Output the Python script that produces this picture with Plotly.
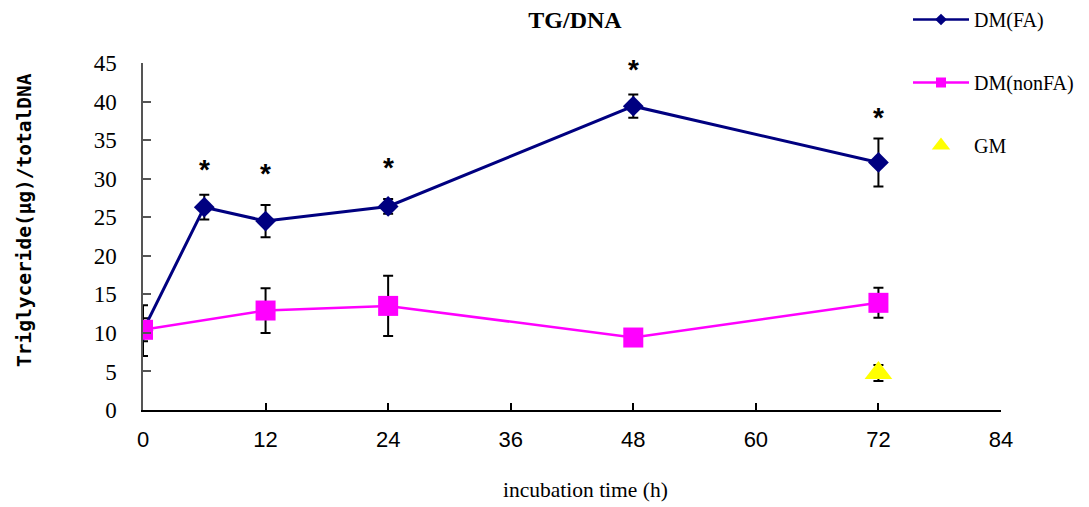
import plotly.graph_objects as go

# incubation time (h)
time_fa = [0, 6, 12, 24, 48, 72]
time_nonfa = [0, 12, 24, 48, 72]
time_gm = [72]

# triglyceride (ug) / total DNA, mean and error
tg_fa = [10.3, 26.3, 24.5, 26.4, 39.4, 32.1]
err_fa = [3.3, 1.6, 2.1, 0.95, 1.5, 3.1]
tg_nonfa = [10.4, 12.9, 13.5, 9.4, 13.9]
err_nonfa = [1.5, 2.9, 3.9, 0.6, 1.95]
tg_gm = [4.8]
err_gm = [1.05]

# significance marks above DM(FA)
sig_time = [6, 12, 24, 48, 72]
sig_y = [31.6, 31.1, 31.9, 44.6, 38.3]

x_ticks = [0, 12, 24, 36, 48, 60, 72, 84]
y_ticks = [0, 5, 10, 15, 20, 25, 30, 35, 40, 45]

NAVY = "#000080"
MAGENTA = "#FF00FF"
YELLOW = "#FFFF00"
SERIF = "Liberation Serif"
SANS = "Liberation Sans"
MONO = "DejaVu Sans Mono"

err_style = dict(type="data", visible=True, color="black", thickness=2, width=5)
hidden_marker = dict(size=1, color="rgba(0,0,0,0)")

fig = go.Figure()

# error bars first so that lines and markers sit on top of them
for xs, ys, es in [(time_fa, tg_fa, err_fa),
                   (time_nonfa, tg_nonfa, err_nonfa),
                   (time_gm, tg_gm, err_gm)]:
    fig.add_trace(go.Scatter(
        x=xs, y=ys, mode="markers", marker=hidden_marker,
        error_y=dict(array=es, **err_style),
        showlegend=False, hoverinfo="skip",
    ))

fig.add_trace(go.Scatter(
    x=time_fa, y=tg_fa, mode="lines+markers", name="DM(FA)",
    line=dict(color=NAVY, width=3),
    marker=dict(symbol="diamond", size=16, color=NAVY),
    showlegend=False,
))
fig.add_trace(go.Scatter(
    x=time_nonfa, y=tg_nonfa, mode="lines+markers", name="DM(nonFA)",
    line=dict(color=MAGENTA, width=2.5),
    marker=dict(symbol="square", size=20, color=MAGENTA),
    showlegend=False,
))
fig.add_trace(go.Scatter(
    x=time_gm, y=tg_gm, mode="markers", name="GM",
    marker=dict(symbol="triangle-up", size=24, color=YELLOW),
    showlegend=False,
))

# legend entries (smaller symbols than on the plot)
fig.add_trace(go.Scatter(
    x=[None], y=[None], mode="lines+markers", name="DM(FA)", legendgroup="fa",
    line=dict(color=NAVY, width=2.5), marker=dict(symbol="diamond", size=9, color=NAVY),
))
fig.add_trace(go.Scatter(
    x=[None], y=[None], mode="lines+markers", name="DM(nonFA)", legendgroup="nonfa",
    line=dict(color=MAGENTA, width=2.5), marker=dict(symbol="square", size=10, color=MAGENTA),
))
fig.add_trace(go.Scatter(
    x=[None], y=[None], mode="markers", name="GM", legendgroup="gm",
    marker=dict(symbol="triangle-up", size=25, color=YELLOW),
))

for xs, ys in zip(sig_time, sig_y):
    fig.add_annotation(x=xs, y=ys, text="<b>*</b>", showarrow=False, yshift=-3,
                       font=dict(family=SANS, size=28, color="black"),
                       xanchor="center", yanchor="middle")

# axis titles
fig.add_annotation(xref="paper", yref="paper", x=(585 - 143) / 858, y=-80 / 347,
                   text="incubation time (h)", showarrow=False,
                   xanchor="center", yanchor="middle",
                   font=dict(family=SERIF, size=21.5, color="black"))
fig.add_annotation(xref="paper", yref="paper", x=(24 - 143) / 858, y=(410 - 220) / 347,
                   text="<b>Triglyceride(μg)/totalDNA</b>", showarrow=False,
                   textangle=-90, xanchor="center", yanchor="middle",
                   font=dict(family=MONO, size=19.5, color="black"))

fig.update_layout(
    width=1089, height=507,
    paper_bgcolor="white", plot_bgcolor="white",
    margin=dict(l=143, r=88, t=63, b=97, autoexpand=False),
    title=dict(text="<b>TG/DNA</b>", x=575 / 1089, xanchor="center",
               y=1 - 20 / 507, yanchor="middle",
               font=dict(family=SERIF, size=24, color="black")),
    legend=dict(
        x=908 / 1089, xref="container", xanchor="left",
        y=1 + 6 / 507, yref="container", yanchor="top",
        font=dict(family=SERIF, size=20, color="black"),
        tracegroupgap=34, itemwidth=56, bgcolor="rgba(0,0,0,0)",
    ),
    xaxis=dict(
        range=[0, 84], tickvals=x_ticks, ticktext=[str(v) for v in x_ticks],
        showline=True, linecolor="black", linewidth=2, mirror=False,
        ticks="inside", ticklen=7, tickcolor="black", tickwidth=1.5,
        showgrid=False, zeroline=False,
        tickfont=dict(family=SANS, size=22, color="black"),
        ticklabelstandoff=9,
    ),
    yaxis=dict(
        range=[0, 45], tickvals=y_ticks, ticktext=[str(v) for v in y_ticks],
        showline=True, linecolor="#555555", linewidth=1.5, mirror=False,
        ticks="inside", ticklen=8, tickcolor="#555555", tickwidth=1.5,
        showgrid=False, zeroline=False,
        tickfont=dict(family=SERIF, size=23, color="black"),
        ticklabelstandoff=20,
    ),
)

fig.write_html("out.html")
